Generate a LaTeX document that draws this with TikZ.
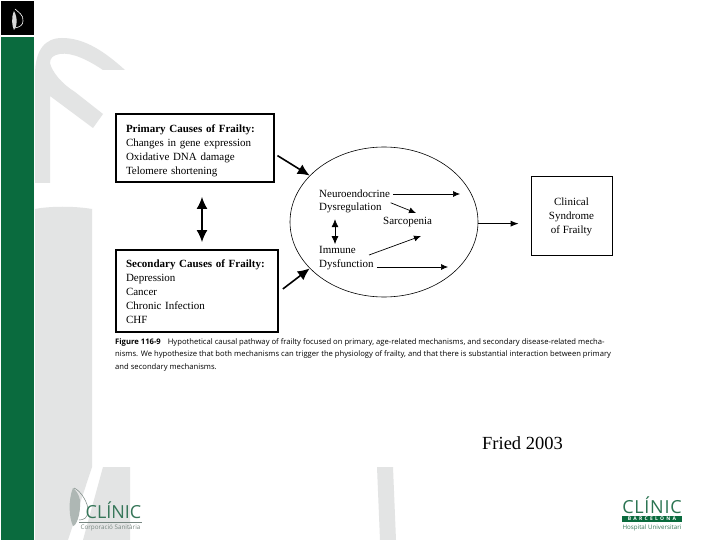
\documentclass[tikz,border=0pt]{standalone}
\usepackage{fontspec}
\setmainfont{Liberation Serif}
\setsansfont{Open Sans}
\usetikzlibrary{shapes.geometric,arrows.meta}
\definecolor{clinicgreen}{RGB}{10,107,62}
\definecolor{markgray}{RGB}{227,228,228}
\definecolor{logogray}{RGB}{120,135,130}
\begin{document}
\begin{tikzpicture}[x=1pt,y=-1pt,
        causebox/.style={draw,line width=1.8pt,align=left,font=\fontsize{11}{14}\selectfont,inner xsep=10pt},
        lbl/.style={inner sep=0pt,font=\fontsize{11}{14}\selectfont},
        thick arrow/.style={line width=1.6pt,-{Latex[length=12pt,width=11pt]}},
        heavy both/.style={line width=1.6pt,{Latex[length=12pt,width=11pt]}-{Latex[length=12pt,width=11pt]}},
        thin arrow/.style={line width=0.7pt,-{Latex[length=7pt,width=6pt]}},
        thin both/.style={line width=0.7pt,{Latex[length=8pt,width=7pt]}-{Latex[length=8pt,width=7pt]}},
        capline/.style={anchor=base west,inner sep=0pt,font=\sffamily\fontsize{7.65}{9}\selectfont}]
    \useasboundingbox (0,0) rectangle (720,540);
    \fill [white] (0,0) rectangle (720,540);
    \fill [markgray] (35,183) -- (35,75) .. controls (35,50) and (45,38) .. (62,38) .. controls (85,38) and (105,52) .. (125,70) -- (103,70) .. controls (88,60) and (72,52) .. (60,54) .. controls (53,55) and (50,58) .. (50,63) .. controls (52,72) and (62,84) .. (75,92) -- (103,114) -- (93,128) -- (50,96) -- (50,183) -- cycle;
    \fill [markgray] (35,540) -- (35,209) .. controls (50,206) and (75,206) .. (92,209) -- (92,467) -- (68,540) -- cycle;
    \fill [markgray] (103,467) -- (130,467) -- (130,540) -- (83,540) -- cycle;
    \fill [markgray] (377,467) -- (393,467) -- (396,540) -- (380,540) -- cycle;
    \fill [clinicgreen] (1,37) rectangle (34,540);
    \fill [black] (1,1) rectangle (34,35);
    \fill [white!85!black] (14,11) .. controls (11,18) and (12,26) .. (14,30) .. controls (17,27) and (18,18) .. (14,11);
    \draw [white,line width=0.6pt] (15,9) .. controls (18,12) and (24,15) .. (23,21) .. controls (23,25) and (20,27) .. (15,28);
    \node [causebox,minimum width=158pt,minimum height=68pt,text width=138pt] (prim) at (195,148) {\rule{0pt}{14pt}\textbf{Primary Causes of Frailty:}\\Changes in gene expression\\Oxidative DNA damage\\Telomere shortening};
    \node [causebox,minimum width=162pt,minimum height=82pt,text width=142pt] (sec) at (197,291) {\rule{0pt}{10pt}\textbf{Secondary Causes of Frailty:}\\Depression\\Cancer\\Chronic Infection\\CHF};
    \node [ellipse,draw,line width=0.6pt,minimum width=188pt,minimum height=150pt,inner sep=0pt] (circ) at (384,222) {};
    \node [lbl,anchor=west] (neuro) at (319,194) {Neuroendocrine};
    \node [lbl,anchor=west] (dys) at (319,208) {Dysregulation};
    \node [lbl,anchor=west] (sarc) at (383,222) {Sarcopenia};
    \node [lbl,anchor=west] (imm) at (319,250) {Immune};
    \node [lbl,anchor=west] (dysf) at (319,265) {Dysfunction};
    \node [draw,line width=0.7pt,minimum width=81pt,minimum height=79pt,align=center,font=\fontsize{11}{14}\selectfont] (clin) at (571.5,215.5) {\rule{0pt}{10pt}Clinical\\Syndrome\\of Frailty};
    \coordinate (neuroend) at (460,194);
    \coordinate (sarctop) at (416,213);
    \coordinate (sarclow) at (421,236);
    \coordinate (dysfend) at (448,267);
    \draw [thick arrow,shorten <=3pt] ([yshift=-6pt]prim.east) -- (circ.148);
    \draw [thick arrow,shorten <=5pt] ([yshift=-1pt]sec.east) -- (circ.212);
    \draw [heavy both,shorten <=14pt,shorten >=7pt] ([xshift=7pt]prim.south) -- ([xshift=7pt]prim.south |- sec.north);
    \draw [thin arrow,shorten <=3pt] (neuro.east) -- (neuroend);
    \draw [thin arrow] ([xshift=9pt]dys.north east) -- (sarctop);
    \draw [thin arrow] ([xshift=13pt,yshift=-5pt]imm.east) -- (sarclow);
    \draw [thin arrow,shorten <=3pt] ([yshift=-2pt]dysf.east) -- (dysfend);
    \draw [thin both,shorten <=6pt,shorten >=2pt] ([xshift=16pt]dys.south west) -- ([xshift=16pt]imm.north west);
    \draw [line width=0.9pt,-{Latex[length=8pt,width=6pt]},shorten >=12pt] (circ.-1.5) -- (circ.-1.5 -| clin.west);
    \node [capline] (capa) at (115,344) {\textbf{Figure 116-9}\hspace{7pt}Hypothetical causal pathway of frailty focused on primary, age-related mechanisms, and secondary disease-related mecha-};
    \node [capline] (capb) at (115,356) {nisms. We hypothesize that both mechanisms can trigger the physiology of frailty, and that there is substantial interaction between primary};
    \node [capline] (capc) at (115,369) {and secondary mechanisms.};
    \node [inner sep=0pt,font=\fontsize{18.5}{20}\selectfont] (fried) at (522.5,443) {Fried 2003};
    \fill [logogray!60] (73,488) .. controls (68,500) and (69,518) .. (73,526) .. controls (76,526) and (81,515) .. (80,500) .. controls (79,495) and (76,490) .. (73,488);
    \draw [logogray,line width=0.5pt] (74,488) .. controls (80,490) and (89,503) .. (88,512) .. controls (87,518) and (84,520) .. (79,520);
    \node [anchor=base,inner sep=0pt,text=clinicgreen!60!logogray,font=\sffamily\fontsize{18}{18}\selectfont] (lclinic) at (113.5,518) {CLÍNIC};
    \fill [logogray] (79,521.5) rectangle (142,523);
    \node [inner sep=0pt,text=logogray,font=\sffamily\fontsize{6.3}{7}\selectfont] (lcorp) at (110.5,528) {Corporació Sanitària};
    \node [anchor=base,inner sep=0pt,text=clinicgreen!70!logogray,font=\sffamily\fontsize{18}{18}\selectfont\addfontfeature{LetterSpace=4}] (rclinic) at (652,513) {CLÍNIC};
    \node [fill=clinicgreen,text=white,minimum width=60pt,minimum height=6pt,inner sep=0pt,font=\sffamily\bfseries\fontsize{5}{5}\selectfont\addfontfeature{LetterSpace=45}] (rband) at (652,519) {BARCELONA};
    \node [inner sep=0pt,text=clinicgreen!60!logogray,font=\sffamily\fontsize{6.2}{7}\selectfont] (rhosp) at (652,528) {Hospital Universitari};
\end{tikzpicture}
\end{document}
